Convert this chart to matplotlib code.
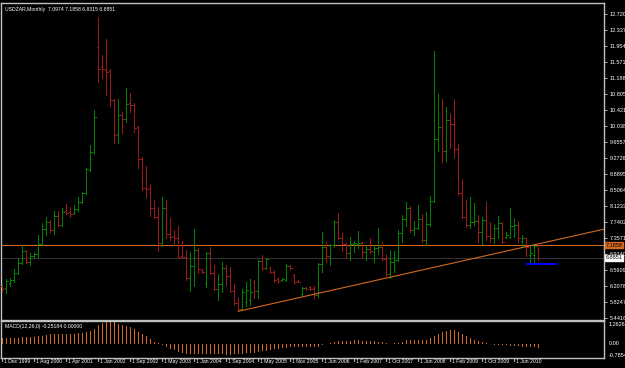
import matplotlib
matplotlib.use("Agg")
import matplotlib.pyplot as plt
from matplotlib.collections import LineCollection
import numpy as np

# ---------------- data ----------------
opens = [6.202, 6.154, 6.274, 6.346, 6.514, 6.754, 7.042, 6.778, 6.922, 6.970,
         7.210, 7.570, 7.738, 7.546, 7.882, 7.666, 8.002, 7.978, 7.954, 8.050,
         8.218, 8.434, 8.986, 9.394, 11.931, 11.451, 11.379, 11.355, 10.659, 9.843,
         10.299, 10.203, 10.587, 10.539, 10.011, 9.250, 8.554, 8.554, 8.074, 7.858,
         7.234, 8.074, 7.450, 7.402, 7.354, 6.922, 6.898, 6.394, 6.682, 7.066,
         6.586, 6.274, 6.994, 6.514, 6.130, 6.250, 6.634, 6.442, 6.082, 5.794,
         5.650, 5.818, 5.866, 6.298, 6.082, 6.802, 6.634, 6.634, 6.538, 6.370,
         6.346, 6.346, 6.682, 6.466, 6.322, 6.010, 6.154, 6.178, 6.154, 5.986,
         6.730, 7.138, 6.922, 7.186, 7.738, 7.354, 7.210, 6.994, 7.210, 7.210,
         7.234, 7.018, 7.090, 7.018, 7.114, 7.138, 6.850, 6.490, 6.778, 6.826,
         7.474, 7.810, 8.074, 7.546, 7.594, 7.810, 7.306, 7.690, 8.242, 9.723,
         10.011, 9.442, 10.179, 10.083, 9.483, 8.434, 7.858, 7.666, 7.738, 7.762,
         7.498, 7.786, 7.402, 7.354, 7.594, 7.714, 7.378, 7.378, 7.642, 7.666,
         7.282, 7.354, 6.946, 6.946, 7.0974]
highs = [6.226, 6.370, 6.394, 6.610, 6.874, 7.186, 7.066, 6.994, 7.018, 7.426,
         7.714, 7.858, 7.786, 8.002, 8.002, 8.074, 8.170, 8.098, 8.146, 8.338,
         8.458, 9.034, 9.579, 10.419, 12.651, 11.739, 12.123, 11.403, 10.683, 10.683,
         10.371, 10.947, 10.827, 10.587, 10.035, 9.298, 9.082, 8.650, 8.266, 8.098,
         8.338, 8.266, 7.834, 7.546, 7.642, 7.282, 7.066, 7.018, 7.570, 7.114,
         6.610, 7.018, 7.138, 6.706, 6.490, 6.778, 6.706, 6.658, 6.250, 5.914,
         6.130, 6.298, 6.370, 6.346, 6.826, 6.946, 6.850, 6.658, 6.586, 6.394,
         6.394, 6.730, 6.706, 6.490, 6.346, 6.178, 6.178, 6.202, 6.202, 6.754,
         7.498, 7.258, 7.210, 7.786, 7.954, 7.474, 7.234, 7.378, 7.282, 7.522,
         7.258, 7.186, 7.354, 7.186, 7.594, 7.258, 6.946, 7.066, 7.042, 7.546,
         7.906, 8.218, 8.122, 7.762, 8.146, 7.930, 7.978, 8.362, 11.835, 10.803,
         10.683, 10.491, 10.323, 10.683, 9.603, 8.770, 8.266, 8.338, 8.194, 7.906,
         7.858, 8.218, 7.738, 7.666, 7.882, 7.738, 7.498, 8.074, 7.834, 7.762,
         7.426, 7.354, 7.162, 7.210, 7.1858]
lows = [6.058, 6.034, 6.202, 6.298, 6.490, 6.730, 6.754, 6.706, 6.874, 6.898,
        7.186, 7.426, 7.498, 7.450, 7.642, 7.642, 7.930, 7.858, 7.930, 8.002,
        8.194, 8.410, 8.962, 9.394, 11.091, 11.187, 10.779, 10.515, 9.627, 9.627,
        9.867, 10.131, 10.371, 9.891, 9.034, 8.506, 8.338, 7.882, 7.834, 7.042,
        7.162, 7.354, 7.306, 7.186, 6.874, 6.874, 6.346, 6.082, 6.202, 6.514,
        6.514, 6.178, 6.490, 6.106, 5.866, 6.058, 6.226, 6.058, 5.746, 5.602,
        5.626, 5.722, 5.746, 5.914, 5.914, 6.586, 6.610, 6.514, 6.298, 6.274,
        6.322, 6.322, 6.610, 6.250, 6.298, 5.986, 6.130, 6.106, 5.914, 5.938,
        6.538, 6.778, 6.706, 7.138, 7.330, 7.042, 6.874, 6.826, 7.018, 7.114,
        6.898, 6.826, 6.994, 6.778, 6.970, 6.826, 6.442, 6.394, 6.538, 6.802,
        7.258, 7.642, 7.498, 7.426, 7.570, 7.258, 7.186, 7.642, 8.218, 9.442,
        9.178, 9.202, 9.507, 9.298, 8.386, 7.834, 7.618, 7.594, 7.666, 7.258,
        7.210, 7.306, 7.258, 7.234, 7.354, 7.234, 7.354, 7.354, 7.378, 7.258,
        7.162, 6.922, 6.730, 6.730, 6.8315]
closes = [6.130, 6.322, 6.346, 6.514, 6.754, 7.042, 6.778, 6.922, 6.970, 7.210,
          7.570, 7.738, 7.546, 7.882, 7.666, 7.978, 7.954, 7.930, 8.050, 8.218,
          8.434, 9.010, 9.418, 10.251, 11.403, 11.403, 11.331, 10.659, 9.819, 10.299,
          10.203, 10.563, 10.539, 9.987, 9.250, 8.554, 8.530, 8.074, 7.858, 7.234,
          8.074, 7.450, 7.378, 7.354, 6.898, 6.898, 6.394, 6.682, 7.066, 6.610,
          6.538, 6.994, 6.514, 6.130, 6.250, 6.634, 6.442, 6.082, 5.794, 5.650,
          6.058, 6.106, 6.058, 6.082, 6.802, 6.634, 6.850, 6.538, 6.346, 6.322,
          6.370, 6.682, 6.634, 6.298, 6.310, 6.154, 6.142, 6.130, 5.986, 6.730,
          7.138, 6.922, 7.186, 7.738, 7.354, 7.210, 6.994, 7.210, 7.234, 7.234,
          7.018, 7.090, 7.042, 7.114, 7.138, 6.850, 6.490, 6.778, 6.826, 7.474,
          7.810, 8.074, 7.546, 7.594, 7.810, 7.306, 7.690, 8.242, 9.723, 10.011,
          9.442, 10.179, 10.083, 9.483, 8.434, 7.858, 7.666, 7.738, 7.762, 7.498,
          7.786, 7.402, 7.354, 7.594, 7.714, 7.258, 7.426, 7.642, 7.666, 7.354,
          7.354, 7.138, 6.994, 7.162, 6.8851]

macd = [0.29, 0.29, 0.29, 0.31, 0.33, 0.35, 0.37, 0.37, 0.37, 0.41,
        0.45, 0.51, 0.53, 0.53, 0.53, 0.53, 0.53, 0.53, 0.55, 0.57,
        0.60, 0.64, 0.70, 0.84, 1.03, 1.15, 1.23, 1.26, 1.19, 1.11,
        1.03, 0.98, 0.94, 0.84, 0.68, 0.55, 0.41, 0.25, 0.12, 0.01,
        -0.08, -0.18, -0.29, -0.37, -0.45, -0.53, -0.57, -0.58, -0.59, -0.59,
        -0.60, -0.60, -0.60, -0.60, -0.60, -0.60, -0.62, -0.62, -0.60, -0.58,
        -0.57, -0.55, -0.53, -0.51, -0.47, -0.43, -0.39, -0.35, -0.31, -0.29,
        -0.25, -0.23, -0.21, -0.20, -0.20, -0.20, -0.20, -0.20, -0.20, -0.16,
        -0.06, 0.00, 0.02, 0.12, 0.14, 0.14, 0.16, 0.16, 0.18, 0.18,
        0.16, 0.16, 0.16, 0.14, 0.12, 0.10, 0.02, -0.01, 0.01, 0.04,
        0.12, 0.20, 0.21, 0.21, 0.21, 0.21, 0.23, 0.29, 0.41, 0.55,
        0.64, 0.72, 0.78, 0.76, 0.68, 0.55, 0.41, 0.29, 0.21, 0.14,
        0.08, 0.01, -0.01, -0.06, -0.08, -0.10, -0.10, -0.12, -0.14, -0.14,
        -0.16, -0.18, -0.20, -0.21, -0.25]

date_labels = ["1 Dec 1999", "1 Aug 2000", "1 Apr 2001", "1 Jan 2002", "1 Sep 2002",
               "1 May 2003", "1 Jan 2004", "1 Sep 2004", "1 May 2005", "1 Nov 2005",
               "1 Jun 2006", "1 Feb 2007", "1 Oct 2007", "1 Jun 2008", "1 Feb 2009",
               "1 Oct 2009", "1 Jun 2010"]
date_label_bars = [0, 8, 16, 24, 32, 40, 48, 56, 64, 72, 80, 88, 96, 104, 112, 120, 128]

price_ticks = [12.7205, 12.3374, 11.9543, 11.5712, 11.1881, 10.8050, 10.4219, 10.0388,
               9.6557, 9.2726, 8.8895, 8.5064, 8.1233, 7.7402, 7.3571, 6.9740,
               6.5909, 6.2078, 5.8247, 5.4416]

title_text = "USDZAR,Monthly  7.0974 7.1858 6.8315 6.8851"
macd_text = "MACD(12,26,0) -0.25184 0.00000"
macd_max, macd_min = 1.26264, -0.78543

hline_price = 7.1858     # orange horizontal line
bid_price = 6.8851       # bid line
support_price = 6.734    # blue segment
support_bars = (130.9, 138.7)
trend_p1 = (59, 5.602)   # trendline anchor points (bar index, price)
trend_p2 = (138.2, 7.306)

# ---------------- figure ----------------
W, H = 625, 368
fig = plt.figure(figsize=(W / 100, H / 100), dpi=100, facecolor="black")

FONT = ["Liberation Sans", "DejaVu Sans"]
FS = 4.0
FS_T = 3.7
GRAY = "#c0c0c0"
UP = "#008000"
DN = "#9a1a1a"
ORANGE = "#d2691e"
LW = 0.72  # one pixel

def fr(x0, y0, x1, y1):
    return [x0 / W, 1 - y1 / H, (x1 - x0) / W, (y1 - y0) / H]

ax = fig.add_axes(fr(1.5, 3, 604, 319.5), facecolor="black")
axm = fig.add_axes(fr(1.5, 320.8, 604, 358), facecolor="black")

n = len(closes)
idx = np.arange(n)
xmin, xmax = -0.2, 150.4

# OHLC bars
segs_up, segs_dn = [], []
for i in range(n):
    segs = [[(i, lows[i]), (i, highs[i])],
            [(i - 0.3, opens[i]), (i, opens[i])],
            [(i, closes[i]), (i + 0.3, closes[i])]]
    if closes[i] >= opens[i]:
        segs_up.extend(segs)
    else:
        segs_dn.extend(segs)
ax.add_collection(LineCollection(segs_up, colors=UP, linewidths=LW, antialiased=False, zorder=3))
ax.add_collection(LineCollection(segs_dn, colors=DN, linewidths=LW, antialiased=False, zorder=3))

# lines
ax.axhline(hline_price, color=ORANGE, lw=LW, zorder=2, antialiased=False)
ax.axhline(bid_price, color="#333333", lw=LW, zorder=1, antialiased=False)
slope = (trend_p2[1] - trend_p1[1]) / (trend_p2[0] - trend_p1[0])
tx = np.array([trend_p1[0], xmax])
ax.plot(tx, trend_p1[1] + slope * (tx - trend_p1[0]), color=ORANGE, lw=0.8, zorder=4)
ax.plot(support_bars, [support_price, support_price], color="#0000ff", lw=1.5, zorder=5,
        solid_capstyle="butt")

ax.set_xlim(xmin, xmax)
ax.set_ylim(5.405, 12.984)
ax.set_xticks([])
ax.yaxis.tick_right()
ax.set_yticks(price_ticks)
ax.set_yticklabels([f"{v:.4f}" for v in price_ticks])
ax.tick_params(axis="y", colors=GRAY, length=2.5, width=0.7, pad=1.5, labelsize=FS,
               labelcolor="white")
for lab in ax.get_yticklabels():
    lab.set_family(FONT)
for s in ax.spines.values():
    s.set_color(GRAY)
    s.set_linewidth(1.0)

# price tags on axis
ax.text(1.003, hline_price, f"{hline_price:.4f}", transform=ax.get_yaxis_transform(),
        fontsize=FS, family=FONT, color="black", va="center", ha="left",
        bbox=dict(boxstyle="square,pad=0.1", fc=ORANGE, ec=ORANGE), zorder=10, clip_on=False)
ax.text(1.003, bid_price, f"{bid_price:.4f}", transform=ax.get_yaxis_transform(),
        fontsize=FS, family=FONT, color="black", va="center", ha="left",
        bbox=dict(boxstyle="square,pad=0.1", fc="white", ec="white"), zorder=10, clip_on=False)

ax.text(3 / 602, 1 - 4 / 316.5, title_text, transform=ax.transAxes, fontsize=FS_T,
        family=FONT, color="white", va="top", ha="left")

# MACD pane
axm.bar(idx, macd, width=0.25, color=ORANGE, linewidth=0)
axm.set_xlim(xmin, xmax)
axm.set_ylim(macd_min - 0.02, macd_max + 0.02)
axm.set_yticks([])
axm.set_xticks([])
for s in axm.spines.values():
    s.set_color(GRAY)
    s.set_linewidth(1.0)
axm.text(3 / 602, 0.92, macd_text, transform=axm.transAxes, fontsize=FS_T, family=FONT,
         color="white", va="top", ha="left")
ytr = axm.get_yaxis_transform()
axm.text(1.008, 0.90, f"{macd_max:.5f}", transform=axm.transAxes, fontsize=FS, family=FONT,
         color="white", va="center", ha="left")
axm.text(1.008, 0.0, "0.00", transform=ytr, fontsize=FS, family=FONT,
         color="white", va="center", ha="left")
axm.text(1.008, 0.08, f"{macd_min:.5f}", transform=axm.transAxes, fontsize=FS, family=FONT,
         color="white", va="center", ha="left")

# date axis
xtr = axm.get_xaxis_transform()
for b, lab in zip(date_label_bars, date_labels):
    axm.plot([b, b], [0, -0.09], transform=xtr, color=GRAY, lw=0.7, clip_on=False)
    axm.text(b + 0.35, -0.04, lab, transform=xtr, fontsize=FS_T, family=FONT,
             color="white", va="top", ha="left", clip_on=False)

fig.savefig("out.png", dpi=100, facecolor="black")
